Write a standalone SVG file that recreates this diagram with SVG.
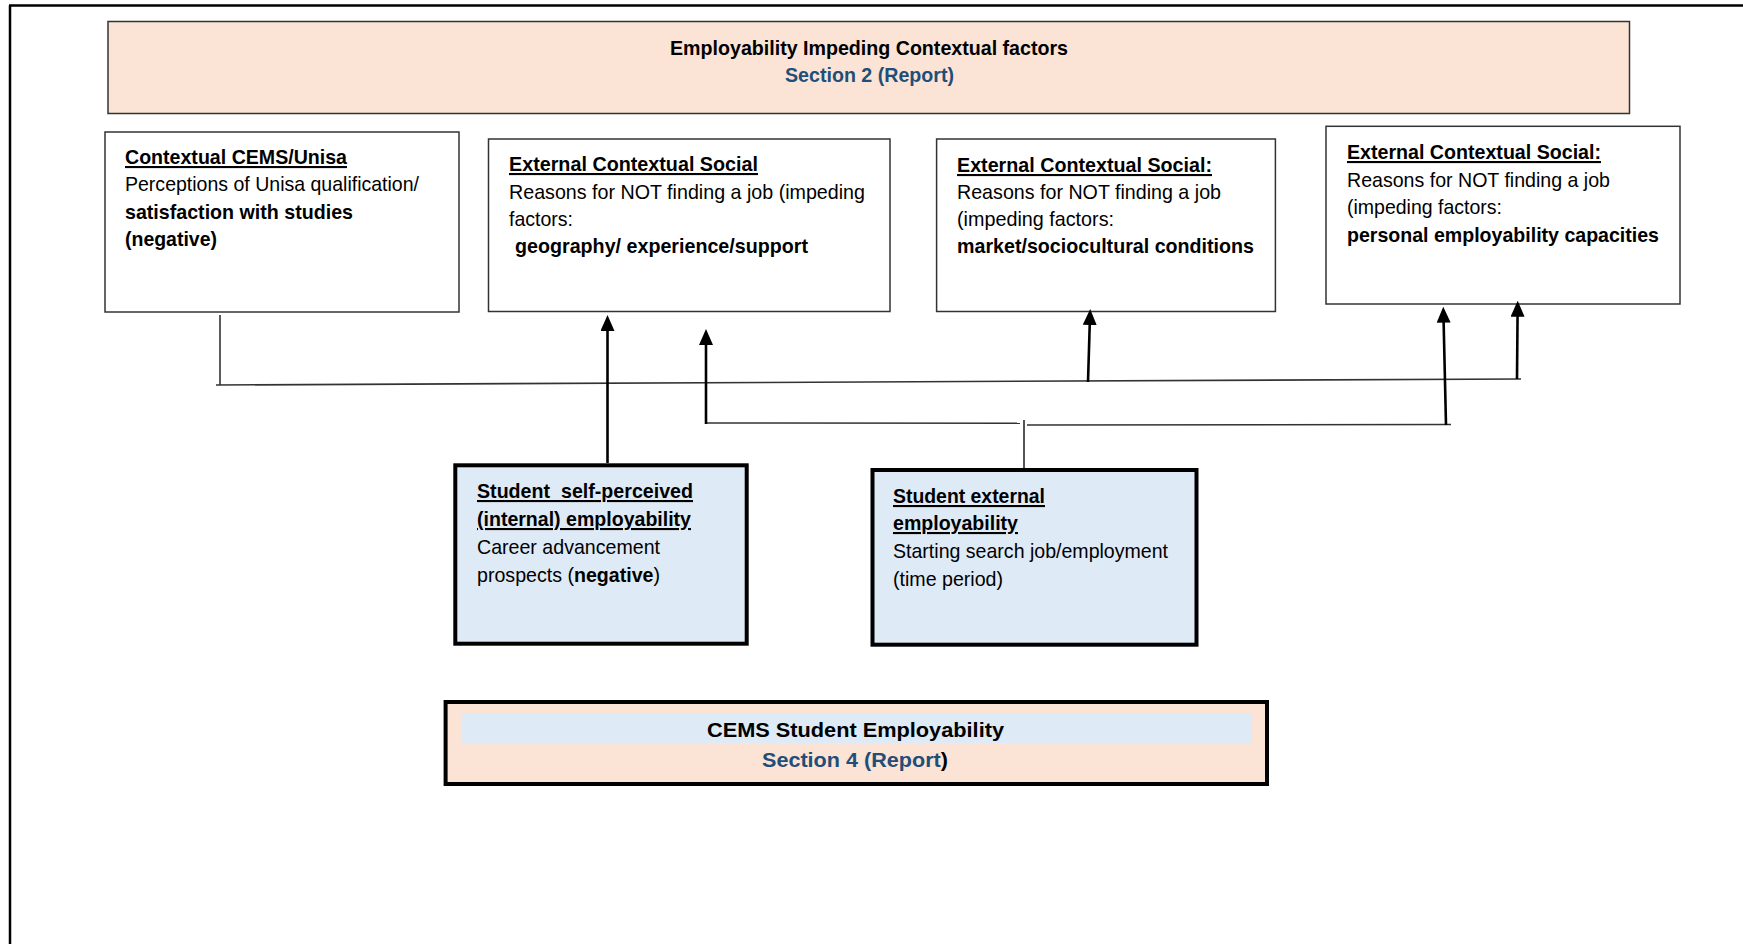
<svg xmlns="http://www.w3.org/2000/svg" width="1743" height="944" viewBox="0 0 1743 944">
<style>
.frame{stroke:#000;stroke-width:2.5;fill:none}
.box{fill:#fff;stroke:#333;stroke-width:1.5}
.peach{fill:#FBE4D5;stroke:#333;stroke-width:1.5}
.thick{fill:#DEEAF6;stroke:#000;stroke-width:4}
.thickp{fill:#FBE4D5;stroke:#000;stroke-width:4}
.band{fill:#DEEAF6}
text{font-family:"Liberation Sans",Arial,sans-serif;font-size:21px;fill:#000}
.b{font-weight:bold}
.u{text-decoration:underline}
.blue{fill:#1F4E79}
.thin{stroke:#333;stroke-width:1.6;fill:none}
.stub{stroke:#555;stroke-width:2;fill:none}
.arr{stroke:#000;stroke-width:2.6;fill:none;marker-end:url(#ah)}
</style>
<defs>
<marker id="ah" viewBox="0 0 16 14" refX="6" refY="7" markerWidth="16" markerHeight="14" markerUnits="userSpaceOnUse" orient="auto">
<path d="M0,0 L16,7 L0,14 z" fill="#000"/>
</marker>
</defs>
<rect width="1743" height="944" fill="#fff"/>
<g id="frame">
<line class="frame" x1="10" y1="5.5" x2="10" y2="944"/>
<line class="frame" x1="9" y1="5.5" x2="1743" y2="5.5"/>
</g>
<g id="header">
<rect class="peach" x="108" y="21.5" width="1521.5" height="92"/>
<text class="b" x="670" y="55" textLength="398" lengthAdjust="spacingAndGlyphs">Employability Impeding Contextual factors</text>
<text class="b blue" x="785" y="82" textLength="169" lengthAdjust="spacingAndGlyphs">Section 2 (Report)</text>
</g>
<g id="cems-unisa">
<rect class="box" x="105" y="132" width="354" height="180"/>
<text class="b u" x="125" y="164" textLength="222" lengthAdjust="spacingAndGlyphs">Contextual CEMS/Unisa</text>
<text x="125" y="191" textLength="294" lengthAdjust="spacingAndGlyphs">Perceptions of Unisa qualification/</text>
<text class="b" x="125" y="219" textLength="228" lengthAdjust="spacingAndGlyphs">satisfaction with studies</text>
<text class="b" x="125" y="246" textLength="92" lengthAdjust="spacingAndGlyphs">(negative)</text>
</g>
<g id="ext-geography">
<rect class="box" x="488.5" y="139" width="401.5" height="172.5"/>
<text class="b u" x="509" y="171" textLength="249" lengthAdjust="spacingAndGlyphs">External Contextual Social</text>
<text x="509" y="199" textLength="356" lengthAdjust="spacingAndGlyphs">Reasons for NOT finding a job (impeding</text>
<text x="509" y="226" textLength="64" lengthAdjust="spacingAndGlyphs">factors:</text>
<text class="b" x="515" y="253" textLength="293" lengthAdjust="spacingAndGlyphs">geography/ experience/support</text>
</g>
<g id="ext-market">
<rect class="box" x="936.6" y="139" width="338.8" height="172.5"/>
<text class="b u" x="957" y="172" textLength="255" lengthAdjust="spacingAndGlyphs">External Contextual Social:</text>
<text x="957" y="199" textLength="264" lengthAdjust="spacingAndGlyphs">Reasons for NOT finding a job</text>
<text x="957" y="226" textLength="157" lengthAdjust="spacingAndGlyphs">(impeding factors:</text>
<text class="b" x="957" y="253" textLength="297" lengthAdjust="spacingAndGlyphs">market/sociocultural conditions</text>
</g>
<g id="ext-personal">
<rect class="box" x="1326" y="126.3" width="354" height="177.7"/>
<text class="b u" x="1347" y="159" textLength="254" lengthAdjust="spacingAndGlyphs">External Contextual Social:</text>
<text x="1347" y="187" textLength="263" lengthAdjust="spacingAndGlyphs">Reasons for NOT finding a job</text>
<text x="1347" y="214" textLength="155" lengthAdjust="spacingAndGlyphs">(impeding factors:</text>
<text class="b" x="1347" y="242" textLength="312" lengthAdjust="spacingAndGlyphs">personal employability capacities</text>
</g>
<g id="connectors">
<line class="thin" x1="220" y1="315" x2="220" y2="385"/>
<line class="thin" x1="216" y1="385" x2="1521" y2="379"/>
<line class="thin" x1="706" y1="423" x2="1020" y2="423.3"/>
<line class="thin" x1="1027" y1="425" x2="1451" y2="424.5"/>
<line class="stub" x1="1024" y1="420" x2="1024" y2="468"/>
<line class="arr" x1="607.5" y1="463" x2="607.5" y2="325"/>
<line class="arr" x1="706" y1="424" x2="706" y2="339"/>
<line class="arr" x1="1088" y1="382" x2="1089.9" y2="319"/>
<line class="arr" x1="1446" y1="425" x2="1443.5" y2="316.7"/>
<line class="arr" x1="1517" y1="379" x2="1517.6" y2="310.7"/>
</g>
<g id="self-perceived">
<rect class="thick" x="455.3" y="465.3" width="291.4" height="178.4"/>
<text class="b u" x="477" y="498" textLength="216" lengthAdjust="spacingAndGlyphs" xml:space="preserve">Student  self-perceived</text>
<text class="b u" x="477" y="526" textLength="214" lengthAdjust="spacingAndGlyphs">(internal) employability</text>
<text x="477" y="554" textLength="183" lengthAdjust="spacingAndGlyphs">Career advancement</text>
<text x="477" y="582" textLength="183" lengthAdjust="spacingAndGlyphs">prospects (<tspan class="b">negative</tspan>)</text>
</g>
<g id="external-employability">
<rect class="thick" x="872.5" y="470" width="324" height="174.7"/>
<text class="b u" x="893" y="503" textLength="152" lengthAdjust="spacingAndGlyphs">Student external</text>
<text class="b u" x="893" y="530" textLength="125" lengthAdjust="spacingAndGlyphs">employability</text>
<text x="893" y="558" textLength="275" lengthAdjust="spacingAndGlyphs">Starting search job/employment</text>
<text x="893" y="586" textLength="110" lengthAdjust="spacingAndGlyphs">(time period)</text>
</g>
<g id="cems-employability">
<rect class="thickp" x="445.6" y="702" width="821.4" height="82"/>
<rect class="band" x="462" y="713" width="790" height="30"/>
<text class="b" x="707" y="737" textLength="297" lengthAdjust="spacingAndGlyphs">CEMS Student Employability</text>
<text class="b" x="762" y="767" textLength="186" lengthAdjust="spacingAndGlyphs"><tspan class="blue">Section 4 (Report</tspan>)</text>
</g>
</svg>
